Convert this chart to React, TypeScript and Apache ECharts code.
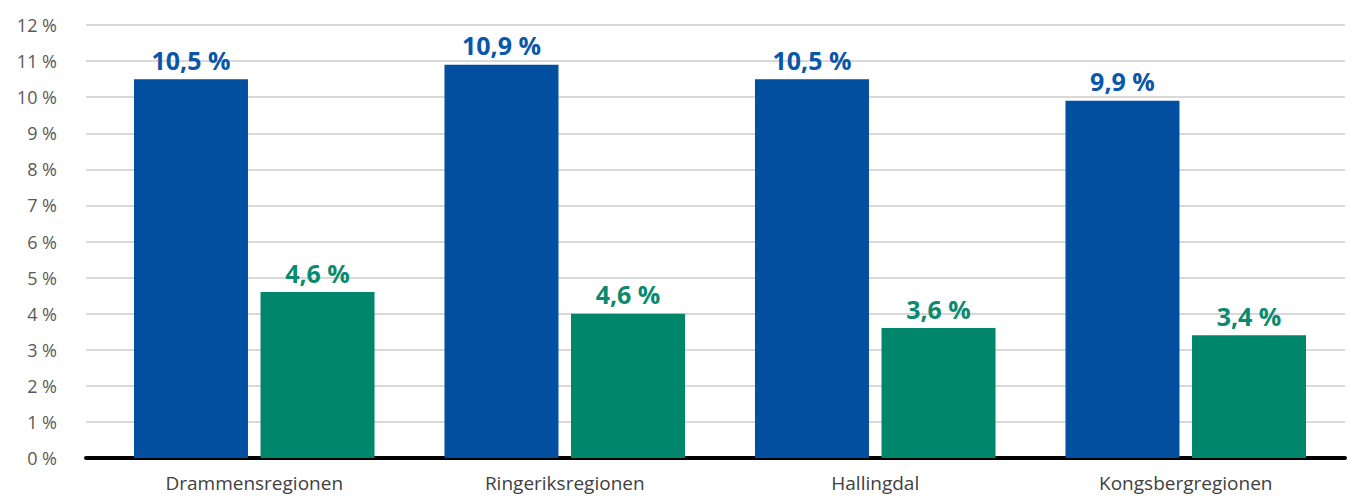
import React, { useEffect, useRef } from "react";
import * as echarts from "echarts";

const categories = ["Drammensregionen", "Ringeriksregionen", "Hallingdal", "Kongsbergregionen"];
const blueValues = [10.5, 10.9, 10.5, 9.9];
const blueLabels = ["10,5 %", "10,9 %", "10,5 %", "9,9 %"];
const greenValues = [4.6, 4.0, 3.6, 3.4];
const greenLabels = ["4,6 %", "4,6 %", "3,6 %", "3,4 %"];
const yMin = 0;
const yMax = 12;
const yInterval = 1;

const BLUE = "#014F9E";
const GREEN = "#00876B";
const FONT = "'Open Sans', 'Noto Sans', sans-serif";

export default function App() {
  const ref = useRef<HTMLDivElement>(null);
  useEffect(() => {
    if (!ref.current) return;
    const chart = echarts.init(ref.current, undefined, { renderer: "svg" });
    chart.setOption({
      animation: false,
      grid: [
        { left: 86, right: 8, top: 25, bottom: 39, containLabel: false },
        { left: 99, right: 12, top: 25, bottom: 39, containLabel: false },
      ],
      xAxis: [
        {
          type: "category",
          gridIndex: 0,
          data: [""],
          axisLine: { show: true, lineStyle: { color: "#000", width: 4 } },
          axisTick: { show: false },
          axisLabel: { show: false },
          splitLine: { show: false },
        },
        {
          type: "category",
          gridIndex: 1,
          data: categories,
          axisLine: { show: false },
          axisTick: { show: false },
          axisLabel: { color: "#404040", fontSize: 19, fontFamily: FONT, margin: 15 },
        },
      ],
      yAxis: [
        {
          type: "value",
          gridIndex: 0,
          min: yMin,
          max: yMax,
          interval: yInterval,
          axisLine: { show: false },
          axisTick: { show: false },
          axisLabel: {
            formatter: "{value} %",
            color: "#595959",
            fontSize: 18,
            fontFamily: FONT,
            margin: 29,
          },
          splitLine: { lineStyle: { color: "#D9D9D9", width: 2 } },
        },
        {
          type: "value",
          gridIndex: 1,
          min: yMin,
          max: yMax,
          interval: yInterval,
          show: false,
          splitLine: { show: false },
        },
      ],
      series: [
        {
          type: "bar",
          xAxisIndex: 1,
          yAxisIndex: 1,
          data: blueValues,
          barWidth: 114,
          barGap: "11%",
          itemStyle: { color: BLUE },
          label: {
            show: true,
            position: "top",
            distance: 7,
            color: "#0A56A8",
            fontSize: 25,
            fontWeight: "bold",
            fontFamily: FONT,
            formatter: (p: any) => blueLabels[p.dataIndex],
          },
        },
        {
          type: "bar",
          xAxisIndex: 1,
          yAxisIndex: 1,
          data: greenValues,
          barWidth: 114,
          barGap: "11%",
          itemStyle: { color: GREEN },
          label: {
            show: true,
            position: "top",
            distance: 7,
            color: "#0A8A6E",
            fontSize: 25,
            fontWeight: "bold",
            fontFamily: FONT,
            formatter: (p: any) => greenLabels[p.dataIndex],
          },
        },
      ],
    });
    return () => chart.dispose();
  }, []);
  return <div ref={ref} style={{ width: 1353, height: 497, position: "absolute", left: 0, top: 0 }} />;
}
